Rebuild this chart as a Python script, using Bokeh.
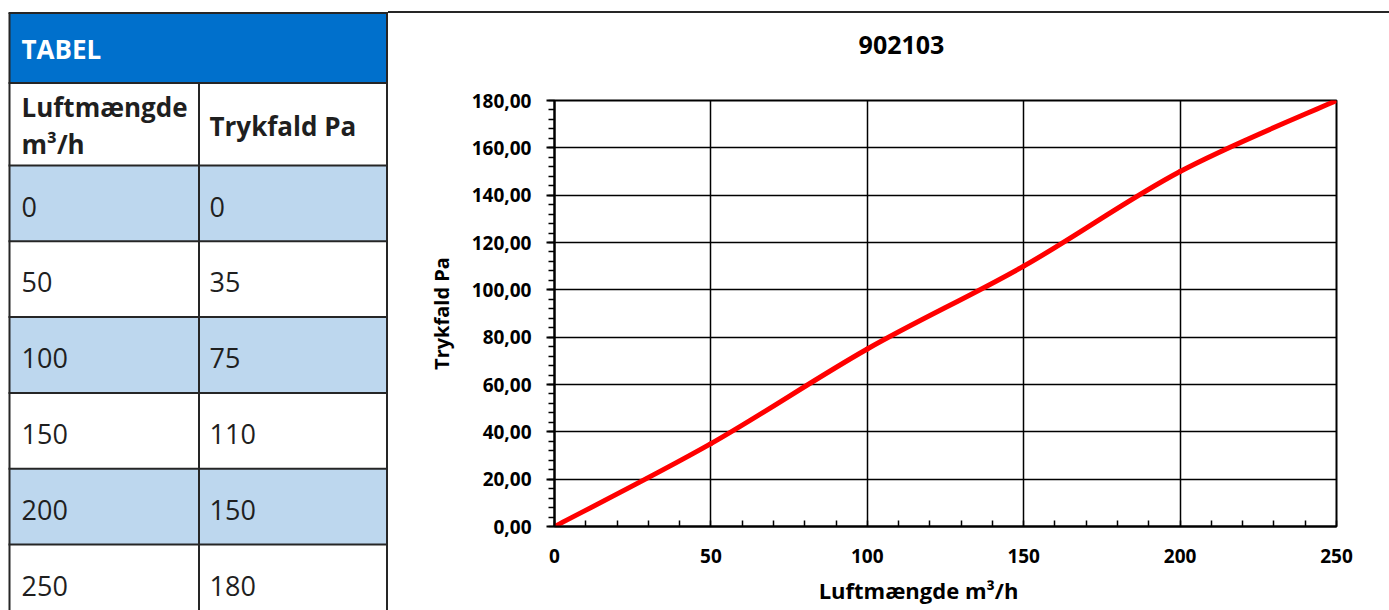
import numpy as np
from bokeh.plotting import figure
from bokeh.layouts import row, column
from bokeh.models import Range1d, FixedTicker, Spacer
from bokeh.core.properties import value
from bokeh.embed import file_html
from bokeh.resources import INLINE

# ---------------- data ----------------
airflow = [0, 50, 100, 150, 200, 250]          # Luftmængde m³/h
pressure = [0, 35, 75, 110, 150, 180]          # Trykfald Pa
table_title = "TABEL"
col1_header = ["Luftmængde", "m³/h"]
col2_header = "Trykfald Pa"
chart_title = "902103"
x_title = "Luftmængde m³/h"
y_title = "Trykfald Pa"
x_ticks = [0, 50, 100, 150, 200, 250]
x_tick_labels = ["0", "50", "100", "150", "200", "250"]
y_ticks = [0, 20, 40, 60, 80, 100, 120, 140, 160, 180]
y_tick_labels = ["0,00", "20,00", "40,00", "60,00", "80,00", "100,00",
                 "120,00", "140,00", "160,00", "180,00"]

FONT = "Open Sans"
W, H = 1389, 610
TW = 388
CW = W - TW
BL, BR = 166, 53            # chart frame borders (left / right)
FW = CW - BL - BR           # chart frame width


def blank(width, height, **kw):
    f = figure(width=width, height=height, x_range=Range1d(0, width - kw.get("min_border_left", 0) - kw.get("min_border_right", 0)),
               y_range=Range1d(height, 0), x_axis_location=None, y_axis_location=None,
               toolbar_location=None, output_backend="svg", outline_line_color=None,
               min_border_top=0, min_border_bottom=0,
               min_border_left=kw.get("min_border_left", 0), min_border_right=kw.get("min_border_right", 0))
    f.grid.visible = False
    return f


# ---------------- table ----------------
t = blank(TW, H)

head_top, head_bot, head2_bot, row_h = 12.5, 82.5, 165.0, 75.8
xl, xm, xr = 9.0, 198.5, 386.5
row_tops = [head2_bot + i * row_h for i in range(len(airflow))]
shade = [i for i in range(len(airflow)) if i % 2 == 0]

t.quad(left=xl, right=xr, top=head_top, bottom=head_bot,
       fill_color="#0070CC", line_color=None)
t.quad(left=[xl] * len(shade), right=[xr] * len(shade),
       top=[row_tops[i] for i in shade], bottom=[row_tops[i] + row_h for i in shade],
       fill_color="#BDD7EE", line_color=None)

hy = [head_top, head_bot] + row_tops[:]
t.segment(x0=[xl - 1] * len(hy), x1=[TW] * len(hy), y0=hy, y1=hy,
          line_color="#262626", line_width=2)
t.segment(x0=[xl, xm, xr], x1=[xl, xm, xr],
          y0=[head_top, head_bot, head_top], y1=[H, H, H],
          line_color="#262626", line_width=2)

t.text(x=[21], y=[48], text=[table_title], text_color="white",
       text_font=value(FONT), text_font_style="bold", text_font_size="26px",
       text_baseline="alphabetic")
t.text(x=[21, 21, 209], y=[106, 143, 125], text=col1_header + [col2_header],
       text_color="#1f1f1f", text_font=value(FONT), text_font_style="bold",
       text_font_size="26px", text_baseline="alphabetic")
t.text(x=[21] * len(airflow), y=[r + 41 for r in row_tops], text=[str(v) for v in airflow],
       text_color="#1f1f1f", text_font=value(FONT), text_font_size="27px",
       text_baseline="alphabetic")
t.text(x=[209] * len(pressure), y=[r + 41 for r in row_tops], text=[str(v) for v in pressure],
       text_color="#1f1f1f", text_font=value(FONT), text_font_size="27px",
       text_baseline="alphabetic")

# ---------------- top border line over chart ----------------
top_gap = Spacer(width=CW, height=11)
top_line = Spacer(width=CW, height=2, styles={"background-color": "#262626"})
top_gap2 = Spacer(width=CW, height=1)

# ---------------- chart title strip ----------------
TH = 72
tf = blank(CW, TH, min_border_left=BL, min_border_right=BR)
tf.text(x=[FW / 2 - 44], y=[30], text=[chart_title], text_align="center",
        text_baseline="alphabetic", text_color="black", text_font=value(FONT),
        text_font_style="bold", text_font_size="25px")

# ---------------- chart ----------------
PT, PB = 14, 50
PH = PT + 426 + PB
p = figure(width=CW, height=PH, x_range=Range1d(0, 250), y_range=Range1d(0, 180),
           toolbar_location=None, output_backend="svg",
           min_border_left=BL, min_border_right=BR, min_border_top=PT, min_border_bottom=PB,
           outline_line_color="black", outline_line_width=2)

xa = p.xaxis[0]
xa.ticker = FixedTicker(ticks=x_ticks, minor_ticks=list(range(0, 251, 10)))
xa.major_label_overrides = dict(zip(x_ticks, x_tick_labels))
xa.major_tick_in = 0
xa.major_tick_out = 0
xa.minor_tick_in = 6
xa.minor_tick_out = 0
xa.major_label_standoff = 22

ya = p.yaxis[0]
ya.ticker = FixedTicker(ticks=y_ticks, minor_ticks=list(range(0, 181, 4)))
ya.major_label_overrides = dict(zip(y_ticks, y_tick_labels))
ya.major_tick_in = 0
ya.major_tick_out = 8
ya.minor_tick_in = 0
ya.minor_tick_out = 6
ya.major_label_standoff = 15
ya.axis_label = y_title
ya.axis_label_standoff = 14
ya.axis_label_text_font = FONT
ya.axis_label_text_font_style = "bold"
ya.axis_label_text_font_size = "20px"
ya.axis_label_text_color = "black"

for ax in (xa, ya):
    ax.axis_line_color = "black"
    ax.axis_line_width = 2
    ax.major_tick_line_color = "black"
    ax.major_tick_line_width = 2
    ax.minor_tick_line_color = "black"
    ax.minor_tick_line_width = 1.5
    ax.major_label_text_font = FONT
    ax.major_label_text_font_style = "bold"
    ax.major_label_text_font_size = "19px"
    ax.major_label_text_color = "black"

p.xgrid.ticker = FixedTicker(ticks=x_ticks)
p.ygrid.ticker = FixedTicker(ticks=y_ticks)
p.grid.grid_line_color = "black"
p.grid.grid_line_width = 1.5
p.grid.grid_line_alpha = 1.0

# smooth curve through the data points (Bezier segments)
P = np.column_stack([airflow, pressure]).astype(float)
pad = np.vstack([P[0], P, P[-1]])
c0 = P[:-1] + (pad[2:-1] - pad[:-3]) / 6.0
c1 = P[1:] - (pad[3:] - pad[1:-2]) / 6.0
p.bezier(x0=P[:-1, 0], y0=P[:-1, 1], x1=P[1:, 0], y1=P[1:, 1],
         cx0=c0[:, 0], cy0=c0[:, 1], cx1=c1[:, 0], cy1=c1[:, 1],
         line_color="#FF0000", line_width=5, line_cap="round")

# ---------------- x-axis title strip ----------------
XH = H - 14 - TH - PH
xf = blank(CW, XH, min_border_left=BL, min_border_right=BR)
xf.text(x=[FW / 2 - 27], y=[XH - 21], text=[x_title], text_align="center",
        text_baseline="alphabetic", text_color="black", text_font=value(FONT),
        text_font_style="bold", text_font_size="22px")

layout = row(t, column(top_gap, top_line, top_gap2, tf, p, xf, spacing=0), spacing=0)
open("out.html", "w").write(file_html(layout, INLINE))
